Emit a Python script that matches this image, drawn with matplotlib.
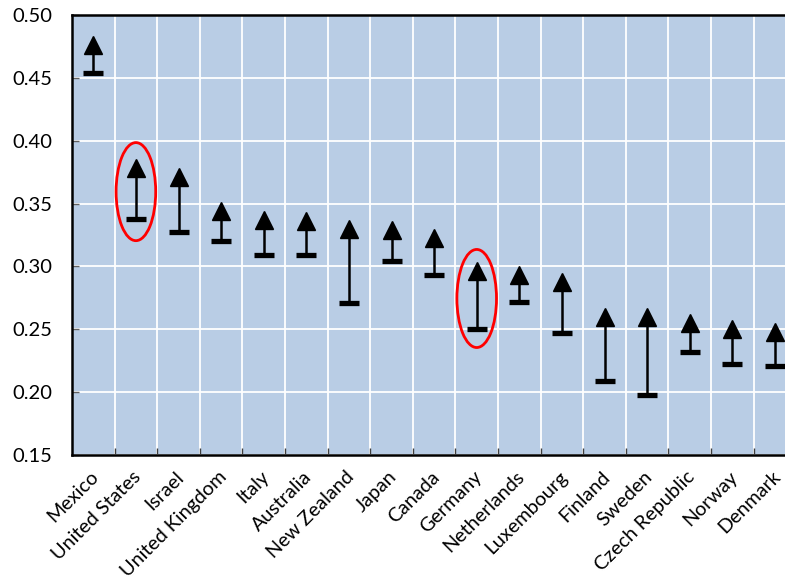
import matplotlib
matplotlib.use("Agg")
import matplotlib.pyplot as plt
from matplotlib.patches import Ellipse
import numpy as np

countries = ["Mexico", "United States", "Israel", "United Kingdom", "Italy",
             "Australia", "New Zealand", "Japan", "Canada", "Germany",
             "Netherlands", "Luxembourg", "Finland", "Sweden", "Czech Republic",
             "Norway", "Denmark"]
after_value = [0.476, 0.378, 0.371, 0.344, 0.337, 0.336, 0.330, 0.329, 0.323,
               0.296, 0.293, 0.288, 0.260, 0.260, 0.255, 0.250, 0.248]
before_value = [0.454, 0.338, 0.327, 0.320, 0.309, 0.309, 0.271, 0.304, 0.293,
                0.250, 0.272, 0.247, 0.209, 0.198, 0.232, 0.222, 0.221]
highlighted = ["United States", "Germany"]
yticks = [0.15, 0.20, 0.25, 0.30, 0.35, 0.40, 0.45, 0.50]

plt.rcParams['font.family'] = ['Lato', 'DejaVu Sans']

W, H = 785, 582
fig = plt.figure(figsize=(W / 100, H / 100), dpi=100)
ax = fig.add_axes([72 / W, 1 - 455 / H, (17 * 42.6) / W, 440 / H])
ax.set_facecolor("#B9CDE5")

x = np.arange(len(countries))
ax.set_xlim(-0.5, len(countries) - 0.5)
ax.set_ylim(0.15, 0.50)

# ticks & grid
ax.set_yticks(yticks)
ax.set_yticklabels([f"{v:.2f}" for v in yticks], fontsize=14.5)
ax.set_xticks(x + 0.5, minor=True)
ax.set_xticks(x)
ax.set_xticklabels([])
ax.tick_params(axis="x", which="major", length=0)
ax.tick_params(axis="x", which="minor", direction="in", length=5,
               color="#404040", width=1)
ax.tick_params(axis="y", which="major", direction="in", length=5,
               color="#606060", width=1, pad=14)
ax.grid(True, axis="y", color="white", linewidth=1.3)
ax.grid(True, axis="x", which="minor", color="white", linewidth=1.3)
ax.set_axisbelow(True)

# category labels (rotated, anchored at their top-right corner)
for xi, name in zip(x, countries):
    ax.annotate(name, xy=(xi, 0), xycoords=("data", "axes fraction"),
                xytext=(-2.5, -9.5), textcoords="offset points",
                rotation=45, rotation_mode="anchor", ha="right", va="top",
                fontsize=14.2, annotation_clip=False)

for side in ["left", "bottom", "top"]:
    ax.spines[side].set_linewidth(1.8)
    ax.spines[side].set_color("black")
ax.spines["right"].set_visible(False)

# arrows
ax.vlines(x, before_value, after_value, color="black", linewidth=1.8, zorder=3)
ax.plot(x, before_value, linestyle="none", marker="_", markersize=14.5,
        markeredgewidth=3.8, color="black", zorder=4)
ax.plot(x, after_value, linestyle="none", marker="^", markersize=13,
        color="black", zorder=5)

# highlight ellipses
for name in highlighted:
    i = countries.index(name)
    yc = (before_value[i] + after_value[i]) / 2 + 0.0015
    e = Ellipse((i, yc), width=0.93, height=0.078, fill=False,
                edgecolor="#FF0000", linewidth=2, zorder=6)
    ax.add_patch(e)

fig.savefig("out.png", dpi=100)
